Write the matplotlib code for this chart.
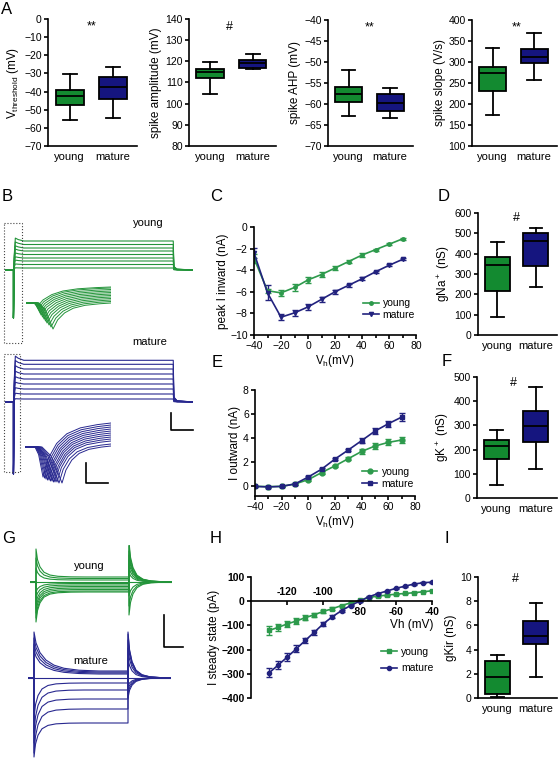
import numpy as np
import matplotlib
matplotlib.use('Agg')
import matplotlib.pyplot as plt
from matplotlib.patches import Rectangle

plt.rcParams['font.family'] = ['Liberation Sans', 'DejaVu Sans']
plt.rcParams['mathtext.default'] = 'regular'
plt.rcParams['axes.linewidth'] = 1.2

W, H = 560, 758
GREEN = '#138a30'
NAVY = '#15157f'
LGREEN = '#2d9a4c'
LNAVY = '#22227e'
TGREEN = '#23943a'
TNAVY = '#28288f'

# ---------------- data ----------------
groups = ['young', 'mature']
# box stats: whisker low, q1, median, q3, whisker high
vthr_young = [-55.8, -47.5, -42.4, -38.9, -30.2]
vthr_mature = [-54.5, -44.0, -37.4, -32.2, -26.7]
amp_young = [104.8, 111.9, 115.1, 116.5, 119.6]
amp_mature = [116.3, 117.0, 119.0, 120.6, 123.3]
ahp_young = [-62.8, -59.6, -57.5, -56.0, -52.0]
ahp_mature = [-63.3, -61.6, -59.7, -57.7, -56.1]
slope_young = [173, 232, 273, 289, 333]
slope_mature = [256, 297, 313, 331, 368]
gna_young = [90, 218, 345, 386, 456]
gna_mature = [236, 340, 460, 504, 525]
gk_young = [54, 163, 215, 240, 282]
gk_mature = [121, 230, 296, 361, 459]
gkir_young = [0.1, 0.36, 1.75, 3.05, 3.55]
gkir_mature = [1.77, 4.49, 5.15, 6.4, 7.84]

# C: peak inward current (nA) vs Vh (mV)
vh_c = [-40, -30, -20, -10, 0, 10, 20, 30, 40, 50, 60, 70]
c_young = [-2.9, -5.9, -6.1, -5.6, -4.9, -4.4, -3.8, -3.2, -2.6, -2.1, -1.6, -1.1]
c_young_err = [0.4, 0.2, 0.3, 0.3, 0.3, 0.25, 0.2, 0.15, 0.15, 0.1, 0.1, 0.1]
c_mature = [-2.4, -6.1, -8.35, -7.95, -7.4, -6.7, -6.0, -5.4, -4.8, -4.15, -3.55, -3.0]
c_mature_err = [0.45, 0.7, 0.25, 0.3, 0.3, 0.25, 0.2, 0.15, 0.15, 0.1, 0.1, 0.1]

# E: outward current (nA)
e_young = [0.0, -0.02, 0.0, 0.2, 0.56, 1.15, 1.7, 2.3, 2.9, 3.35, 3.65, 3.85]
e_young_err = [0.05, 0.05, 0.05, 0.05, 0.08, 0.1, 0.1, 0.15, 0.2, 0.22, 0.25, 0.25]
e_mature = [0.0, -0.05, 0.0, 0.2, 0.78, 1.43, 2.27, 3.02, 3.8, 4.59, 5.2, 5.75]
e_mature_err = [0.05, 0.05, 0.05, 0.05, 0.1, 0.1, 0.1, 0.12, 0.2, 0.25, 0.25, 0.3]

# H: steady state current (pA)
vh_h = [-130, -125, -120, -115, -110, -105, -100, -95, -90, -85,
        -80, -75, -70, -65, -60, -55, -50, -45, -40]
h_young = [-121, -108, -94, -82, -68, -56, -42, -31, -18, -7,
           3, 15, 21, 25, 29, 32, 35, 39, 43]
h_young_err = [18, 15, 14, 12, 10, 8, 6, 5, 4, 3, 2, 2, 2, 2, 2, 2, 2, 2, 2]
h_mature = [-296, -264, -231, -197, -162, -128, -93, -64, -39, -18,
            0, 18, 31, 42, 53, 62, 71, 76, 79]
h_mature_err = [18, 16, 15, 14, 12, 10, 8, 6, 4, 3, 3, 2, 2, 2, 2, 2, 2, 2, 2]

# B: example current traces (arbitrary units)
b_young_levels = [29, 25.5, 22, 19, 15.5, 12, 9, 5.5, 2]
b_mature_levels = [41.7, 37.7, 33, 28, 23, 18, 13, 8, 3]
b_step_t = [0, 9, 9, 9.8, 11, 14, 20, 179, 179.6, 183, 200]
b_step_shape = [0, 0, 0, 0.5, 1.1, 1.05, 1.0, 1.0, 0.12, 0.03, 0]
b_young_spike = -48
b_mature_spike = -72
# insets: Na current onset, trough time, trough depth, final level
ins_young_on = [13, 12.5, 12, 11.5, 11, 10.5, 10, 9.5, 9, 8.5, 8, 7.5]
ins_young_tr = [27, 25, 23, 21, 19.5, 18, 16.5, 15, 14, 13, 12, 11]
ins_young_depth = [26, 24, 22, 20, 18, 16, 14, 12, 10, 8, 6, 4]
ins_young_final = [0, 1.5, 3, 4.5, 6, 7.5, 9, 10.5, 12, 13.5, 15, 16]
ins_mature_on = [17, 16, 15, 14, 13.5, 13, 12.5, 12, 11.5, 11, 10.5, 10]
ins_mature_tr = [37, 34, 32, 30, 28.5, 27, 25.5, 24, 22.5, 21, 19.5, 18]
ins_mature_depth = [36, 36, 35, 35, 35, 34, 34, 33, 33, 32, 31, 30]
ins_mature_final = [1, 3, 6, 8, 10, 12, 14, 16, 18, 20, 22, 24]
rise_ft = [0, 0.08, 0.2, 0.35, 0.55, 0.8, 1.0]
rise_fv = [0, 0.35, 0.62, 0.8, 0.91, 0.97, 1.0]

# G: Kir current traces (arbitrary units)
g_young_levels = [5, 3.5, 2, 0, -1.5, -3, -4.5, -6, -7.5, -9, -10]
g_young_peak = [33, 24, 14, 0, -10, -16, -22, -27, -31, -36, -40]
g_young_tail = [-33, -24, -14, 0, 10, 16, 22, 27, 31, 36, 40]
g_mature_levels = [7, 6, 5, 4, 0, -5, -12, -21, -31, -45]
g_mature_peak = [46, 40, 34, 28, 0, -40, -55, -65, -75, -79]
g_mature_tail = [-20, -16, -12, -8, 0, 20, 30, 38, 44, 46]
fast_dt = [0, 1.5, 4, 8, 14, 22, 35, 50]
fast_frac = [1, 0.62, 0.36, 0.17, 0.07, 0.025, 0.005, 0]
slow_dt = [0, 2, 6, 12, 20, 30, 45, 65]
slow_frac = [1, 0.72, 0.47, 0.28, 0.15, 0.07, 0.02, 0]

# ---------------- figure ----------------
fig = plt.figure(figsize=(5.6, 7.58), dpi=100)


def px_axes(x0, y0, x1, y1):
    return fig.add_axes([x0 / W, 1 - y1 / H, (x1 - x0) / W, (y1 - y0) / H])


def style(ax):
    for s in ['top', 'right']:
        ax.spines[s].set_visible(False)
    ax.tick_params(direction='out', length=3, width=1.2, labelsize=7.5, pad=1.5)


def box_panel(box, young, mature, ylim, step, ylabel, mark, mxy):
    ax = px_axes(*box)
    stats = [dict(whislo=s[0], q1=s[1], med=s[2], q3=s[3], whishi=s[4], label=g)
             for s, g in zip([young, mature], groups)]
    bp = ax.bxp(stats, positions=[1, 2], widths=0.65, patch_artist=True, showfliers=False,
                boxprops=dict(linewidth=1.3, edgecolor='black'),
                medianprops=dict(color='black', linewidth=1.3),
                whiskerprops=dict(linewidth=1.3), capprops=dict(linewidth=1.3))
    for patch, c in zip(bp['boxes'], [GREEN, NAVY]):
        patch.set_facecolor(c)
    style(ax)
    ax.set_xlim(0.5, 2.55)
    ax.set_ylim(*ylim)
    ax.set_yticks(np.arange(ylim[0], ylim[1] + step / 2, step))
    ax.tick_params(axis='x', length=0, labelsize=8, pad=4)
    ax.set_ylabel(ylabel, fontsize=8.5, labelpad=2)
    ax.text(mxy[0], mxy[1], mark, transform=ax.transAxes, ha='center', va='center', fontsize=9)
    return ax


def iv_legend(ax, ebs, anchor, spacing):
    ax.legend([e[0] for e in ebs], groups, loc='lower right', bbox_to_anchor=anchor,
              frameon=False, fontsize=7.5, handlelength=1.5, labelspacing=spacing,
              borderaxespad=0, handletextpad=0.4)


box_panel((48, 19, 137, 146), vthr_young, vthr_mature, (-70, 0), 10,
          'V$_{threshold}$ (mV)', '**', (0.49, 0.94))
box_panel((189, 19, 276, 146), amp_young, amp_mature, (80, 140), 10,
          'spike amplitude (mV)', '#', (0.47, 0.94))
box_panel((328, 20, 413, 146), ahp_young, ahp_mature, (-70, -40), 5,
          'spike AHP (mV)', '**', (0.49, 0.94))
box_panel((472, 20, 557, 146), slope_young, slope_mature, (100, 400), 50,
          'spike slope (V/s)', '**', (0.52, 0.94))
box_panel((478, 213, 557, 335), gna_young, gna_mature, (0, 600), 100,
          'gNa$^+$ (nS)', '#', (0.49, 0.96))
box_panel((477, 377, 557, 498), gk_young, gk_mature, (0, 500), 100,
          'gK$^+$ (nS)', '#', (0.46, 0.95))
box_panel((478, 577, 557, 698), gkir_young, gkir_mature, (0, 10), 2,
          'gKir (nS)', '#', (0.48, 0.98))

# C
ax = px_axes(254, 227, 416, 335)
e1 = ax.errorbar(vh_c, c_young, yerr=c_young_err, color=LGREEN, marker='o', ms=2.5, lw=1.2,
                 capsize=2, elinewidth=1)
e2 = ax.errorbar(vh_c, c_mature, yerr=c_mature_err, color=LNAVY, marker='v', ms=3, lw=1.2,
                 capsize=2, elinewidth=1)
style(ax)
ax.set_xlim(-40, 80)
ax.set_ylim(-10, 0)
ax.set_xticks(range(-40, 81, 20))
ax.set_xticks(range(-30, 81, 20), minor=True)
ax.tick_params(which='minor', length=2, width=1.2)
ax.set_yticks(range(-10, 1, 2))
ax.set_xlabel('V$_h$(mV)', fontsize=8.5, labelpad=1)
ax.set_ylabel('peak I inward (nA)', fontsize=8.5, labelpad=1)
iv_legend(ax, [e1, e2], (1.02, 0.1), 0.15)

# E
ax = px_axes(255, 390, 415, 496)
e1 = ax.errorbar(vh_c, e_young, yerr=e_young_err, color=LGREEN, marker='o', ms=3.5, lw=1.2,
                 capsize=2, elinewidth=1)
e2 = ax.errorbar(vh_c, e_mature, yerr=e_mature_err, color=LNAVY, marker='s', ms=3.5, lw=1.2,
                 capsize=2, elinewidth=1)
style(ax)
ax.set_xlim(-40, 80)
ax.set_ylim(-0.8, 8)
ax.set_xticks(range(-40, 81, 20))
ax.set_xticks(range(-30, 81, 20), minor=True)
ax.tick_params(which='minor', length=2, width=1.2)
ax.set_yticks(range(0, 9, 2))
ax.set_xlabel('V$_h$(mV)', fontsize=8.5, labelpad=1)
ax.set_ylabel('I outward (nA)', fontsize=8.5, labelpad=1)
iv_legend(ax, [e1, e2], (1.02, 0.03), 0.15)

# H
ax = px_axes(251, 577, 432, 698)
e1 = ax.errorbar(vh_h, h_young, yerr=h_young_err, color=LGREEN, marker='s', ms=3, lw=1.2,
                 capsize=2, elinewidth=1)
e2 = ax.errorbar(vh_h, h_mature, yerr=h_mature_err, color=LNAVY, marker='o', ms=3, lw=1.2,
                 capsize=2, elinewidth=1)
style(ax)
ax.spines['bottom'].set_position(('data', 0))
ax.set_xlim(-140, -40)
ax.set_ylim(-400, 100)
ax.set_yticks(range(-400, 101, 100))
for lab in ax.get_yticklabels():
    lab.set_fontweight('bold')
ax.set_xticks([-120, -100, -80, -60, -40])
ax.set_xticklabels([])
for v in [-120, -100]:
    ax.annotate(str(v), (v, 0), xytext=(0, 3), textcoords='offset points', ha='center',
                va='bottom', fontsize=7.5, fontweight='bold')
for v in [-80, -60, -40]:
    ax.annotate(str(v), (v, 0), xytext=(0, -4), textcoords='offset points', ha='center',
                va='top', fontsize=7.5, fontweight='bold')
ax.text(0.89, 0.6, 'Vh (mV)', transform=ax.transAxes, ha='center', va='center', fontsize=8.5)
ax.set_ylabel('I steady state (pA)', fontsize=8.5, labelpad=1)
iv_legend(ax, [e1, e2], (1.03, 0.17), 0.6)


# ---------------- traces ----------------
def trace_axes(box, xlim, ylim):
    a = px_axes(*box)
    a.set_xlim(*xlim)
    a.set_ylim(*ylim)
    a.axis('off')
    return a


def step_traces(a, levels, spike, color):
    for L in levels:
        y = [s * L for s in b_step_shape]
        y[2] = spike
        a.plot(b_step_t, y, color=color, lw=0.8)


def na_traces(a, ons, trs, depths, finals, end, color):
    for o, tr, d, f in zip(ons, trs, depths, finals):
        t = [0, o, o + 0.45 * (tr - o), o + 0.8 * (tr - o), tr]
        y = [0, 0, -0.25 * d, -0.72 * d, -d]
        for ft, fv in zip(rise_ft[1:], rise_fv[1:]):
            t.append(tr + ft * (end - tr))
            y.append(-d + (f + d) * fv)
        a.plot(t, y, color=color, lw=0.7)


def kir_traces(a, levels, peaks, tails, onset, offset, end, color):
    for L, p, tl in zip(levels, peaks, tails):
        dts, fr = (slow_dt, slow_frac) if p > 0 and color == TNAVY else (fast_dt, fast_frac)
        t = [0, onset]
        y = [0, 0]
        for dt, f in zip(dts, fr):
            t.append(onset + dt)
            y.append(L + (p - L) * f)
        t.append(offset)
        y.append(L)
        for dt, f in zip(fast_dt, fast_frac):
            if offset + dt < end:
                t.append(offset + dt)
                y.append(tl * f)
        t.append(end)
        y.append(0)
        a.plot(t, y, color=color, lw=0.8)


a = trace_axes((5, 235, 193, 320), (0, 200), (-50, 35))
step_traces(a, b_young_levels, b_young_spike, TGREEN)
a = trace_axes((26, 284, 111, 332), (0, 85), (-29, 19))
na_traces(a, ins_young_on, ins_young_tr, ins_young_depth, ins_young_final, 85, TGREEN)
a = trace_axes((5, 352, 193, 475), (0, 200), (-73, 50))
step_traces(a, b_mature_levels, b_mature_spike, TNAVY)
a = trace_axes((25, 418, 111, 486), (0, 86), (-39, 29))
na_traces(a, ins_mature_on, ins_mature_tr, ins_mature_depth, ins_mature_final, 86, TNAVY)

a = trace_axes((30, 545, 172, 626), (0, 142), (-44, 37))
kir_traces(a, g_young_levels, g_young_peak, g_young_tail, 6, 99, 142, TGREEN)
a = trace_axes((28, 628, 171, 758), (0, 143), (-80, 50))
kir_traces(a, g_mature_levels, g_mature_peak, g_mature_tail, 6, 100, 143, TNAVY)

# ---------------- overlay: labels, boxes, scale bars ----------------
ov = fig.add_axes([0, 0, 1, 1])
ov.set_xlim(0, W)
ov.set_ylim(H, 0)
ov.axis('off')
for lab, x, y in [('A', 1, 2), ('B', 2, 189), ('C', 210, 189), ('D', 438, 189),
                  ('E', 212, 355), ('F', 442, 354), ('G', 2, 531), ('H', 210, 531), ('I', 445, 531)]:
    ov.text(x, y, lab, fontsize=12, ha='left', va='top')
ov.add_patch(Rectangle((4, 223), 18, 120, fill=False, ls=':', lw=0.8, ec='#444444'))
ov.add_patch(Rectangle((4, 354), 16, 118, fill=False, ls=':', lw=0.8, ec='#444444'))
ov.plot([171, 171, 193], [413, 430, 430], color='black', lw=1.2)
ov.plot([86, 86, 108], [463, 483, 483], color='black', lw=1.2)
ov.plot([164, 164, 183], [615, 647, 647], color='black', lw=1.2)
ov.text(148, 223, 'young', fontsize=8, ha='center', va='center')
ov.text(150, 342, 'mature', fontsize=8, ha='center', va='center')
ov.text(89, 566, 'young', fontsize=8, ha='center', va='center')
ov.text(91, 661, 'mature', fontsize=8, ha='center', va='center')

fig.savefig('out.png', dpi=100)
